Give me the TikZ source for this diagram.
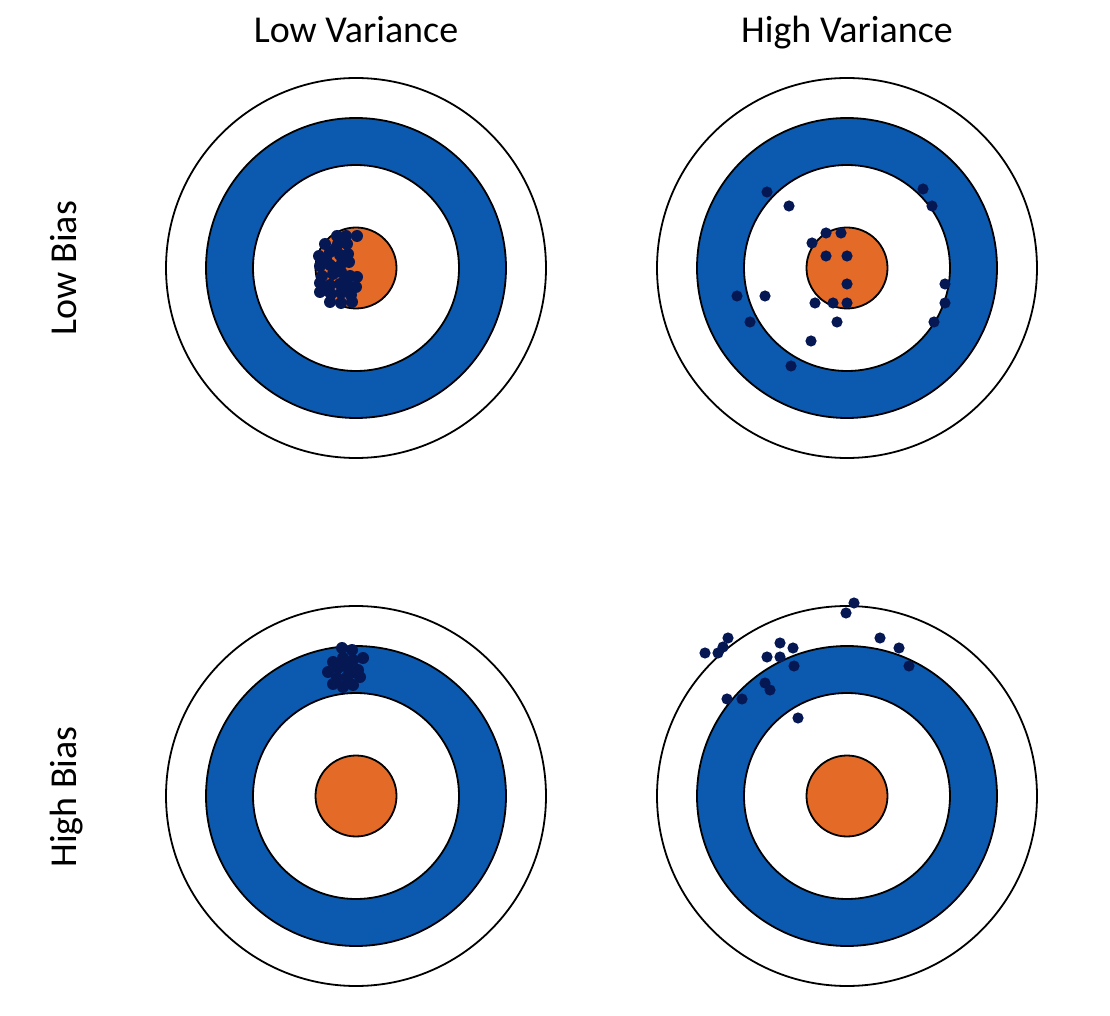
\documentclass[tikz,border=0pt]{standalone}
\usepackage{fontspec}
\setmainfont{Carlito}
\definecolor{ringblue}{RGB}{12,90,176}
\definecolor{bullorange}{RGB}{228,106,40}
\definecolor{shotblue}{RGB}{6,24,84}
\tikzstyle{ring}=[draw=black, line width=0.9pt]
\tikzstyle{shot}=[shotblue]
\tikzstyle{caption}=[font=\fontsize{19}{23}\selectfont, inner sep=0pt]

\begin{document}
\begin{tikzpicture}[x=0.5pt, y=-0.5pt]
\useasboundingbox (0,0) rectangle (1110,1016);
% Headings
    \node[caption, anchor=base] (lowvar) at (356,43) {Low Variance};
    \node[caption, anchor=base] (highvar) at (847,43) {High Variance};
    \node[caption, anchor=base, rotate=90] (lowbias) at (76,268) {Low Bias};
    \node[caption, anchor=base, rotate=90] (highbias) at (76,797) {High Bias};
% Targets
    \foreach \cx/\cy in {356/268, 847/268, 356/796, 847/796} {
        \filldraw[ring, fill=white] (\cx,\cy) circle(190);
        \filldraw[ring, fill=ringblue] (\cx,\cy) circle(150);
        \filldraw[ring, fill=white] (\cx,\cy) circle(103);
        \filldraw[ring, fill=bullorange] (\cx,\cy) circle(40.5);
    }
% Shots, low bias low variance
    \foreach \x/\y in {337/236, 346/236, 357/236, 325/244, 338/244, 347/244,
        319/256, 330/252, 340/255, 348/254, 320/266, 330/265, 342/263, 349/262,
        322/276, 333/274, 341/272, 350/276, 357/277, 320/283, 330/285, 340/284,
        349/286, 356/287, 320/292, 331/294, 341/293, 351/295, 330/302, 341/303,
        352/302, 326/259, 335/268, 326/290, 345/280, 336/248}
        \fill[shot] (\x,\y) circle(6);
% Shots, low bias high variance
    \foreach \x/\y in {767/192, 789/206, 923/189, 932/206, 826/233, 841/233,
        812/243, 826/256, 847/256, 847/284, 945/284, 737/296, 765/296, 815/303,
        833/303, 847/303, 945/303, 750/322, 837/322, 934/322, 811/341, 791/366}
        \fill[shot] (\x,\y) circle(5.6);
% Shots, high bias low variance
    \foreach \x/\y in {342/648, 352/650, 333/662, 343/658, 353/660, 363/658,
        328/672, 338/668, 348/668, 358/670, 337/678, 347/677, 360/677,
        343/687, 353/685, 333/684, 340/664, 351/673}
        \fill[shot] (\x,\y) circle(6);
% Shots, high bias high variance
    \foreach \x/\y in {854/603, 846/613, 728/638, 723/647, 718/653, 705/653,
        780/643, 793/648, 767/657, 780/657, 794/666, 880/638, 899/648, 909/666,
        765/683, 770/690, 727/699, 742/699, 798/718}
        \fill[shot] (\x,\y) circle(5.6);
\end{tikzpicture}
\end{document}
